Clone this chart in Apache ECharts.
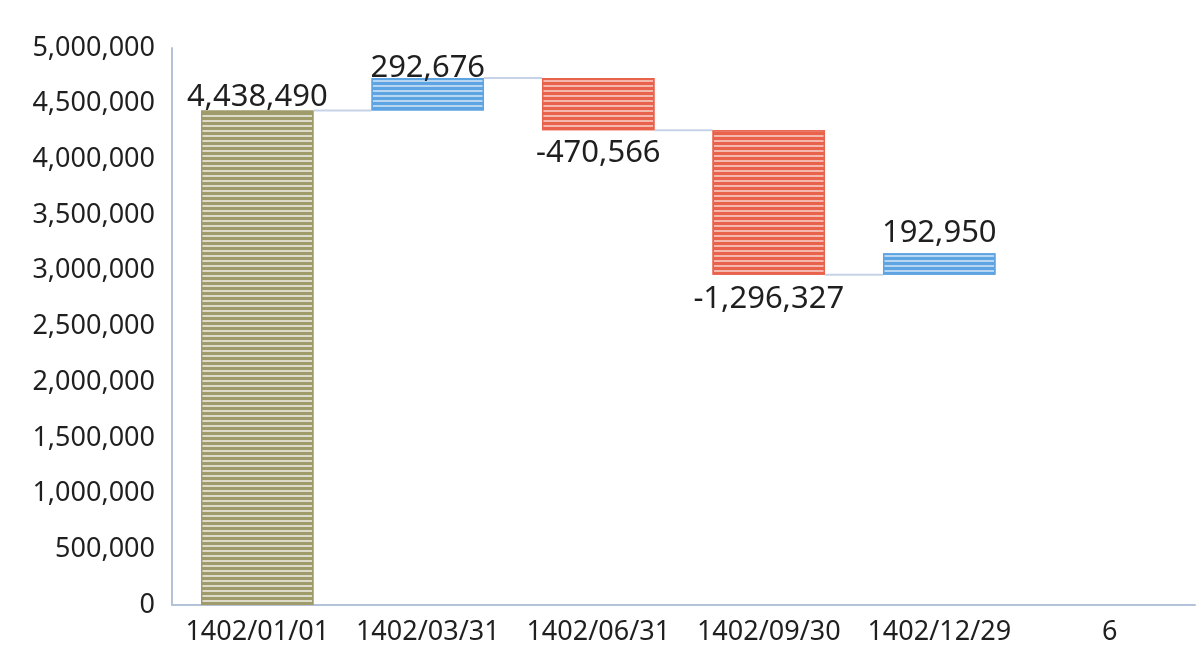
<!DOCTYPE html>
<html>
<head>
<meta charset="utf-8">
<script src="https://cdn.jsdelivr.net/npm/echarts@6/dist/echarts.min.js"></script>
<style>
html,body{margin:0;padding:0;background:#fff;}
#c{width:1204px;height:668px;}
</style>
</head>
<body>
<div id="c"></div>
<script>
var categories = ['1402/01/01', '1402/03/31', '1402/06/31', '1402/09/30', '1402/12/29', '6'];
var changes = [4438490, 292676, -470566, -1296327, 192950, null];
var yTicks = { min: 0, max: 5000000, interval: 500000 };

var COLORS = { start: '#9f9b6a', up: '#5fa4e2', down: '#e9624c' };

// waterfall geometry from the changes
var base = [], height = [], level = [];
var run = 0;
changes.forEach(function (d, i) {
  if (d === null) { base.push(null); height.push(null); level.push(null); return; }
  if (i === 0) { base.push(0); height.push(d); run = d; }
  else if (d >= 0) { base.push(run); height.push(d); run += d; }
  else { base.push(run + d); height.push(-d); run += d; }
  level.push(run);
});

function fmt(v) { return Number(v).toLocaleString('en-US'); }

function decal(alpha) {
  return {
    symbol: 'rect', symbolSize: 1,
    dashArrayX: [1, 0], dashArrayY: [2, 2.5],
    color: 'rgba(255,255,255,' + alpha + ')', rotation: 0
  };
}

var valueData = height.map(function (h, i) {
  if (h === null) return null;
  var d = changes[i];
  var col = i === 0 ? COLORS.start : (d >= 0 ? COLORS.up : COLORS.down);
  var neg = d < 0;
  var dist = i === 0 ? -2 : (neg ? (i === 3 ? 9 : 7) : (i === 1 ? -6 : 5));
  return {
    value: h,
    itemStyle: { color: col, borderColor: col, borderWidth: 1.5, decal: decal(i === 0 ? 0.65 : 0.55) },
    label: { position: neg ? 'bottom' : 'top', distance: dist }
  };
});

var connectorData = [];
for (var i = 0; i < level.length - 1; i++) {
  if (level[i] !== null && level[i + 1] !== null) connectorData.push([i, level[i]]);
}

var BAR_RATIO = 0.66;
var chart = echarts.init(document.getElementById('c'));
chart.setOption({
  backgroundColor: '#ffffff',
  animation: false,
  grid: { left: 172, right: 9, top: 48, bottom: 63 },
  xAxis: {
    type: 'category',
    data: categories,
    axisLine: { show: true, lineStyle: { color: '#b4c2d8', width: 2 } },
    axisTick: { show: false },
    axisLabel: { color: '#1f1f1f', fontSize: 27, fontFamily: 'Noto Sans', margin: 14, interval: 0, hideOverlap: false }
  },
  yAxis: {
    type: 'value',
    min: yTicks.min, max: yTicks.max, interval: yTicks.interval,
    axisLine: { show: true, lineStyle: { color: '#b4c2d8', width: 2 } },
    axisTick: { show: false },
    splitLine: { show: false },
    axisLabel: {
      color: '#1f1f1f', fontSize: 27, fontFamily: 'Noto Sans', margin: 17,
      formatter: function (v) { return fmt(v); }
    }
  },
  series: [
    {
      type: 'bar', stack: 'w', data: base, barCategoryGap: '34%',
      itemStyle: { color: 'transparent' }, silent: true
    },
    {
      type: 'bar', stack: 'w', data: valueData, barCategoryGap: '34%',
      label: {
        show: true, color: '#1f1f1f', fontSize: 31, fontFamily: 'Noto Sans',
        formatter: function (p) { return fmt(changes[p.dataIndex]); }
      }
    },
    {
      type: 'custom',
      data: connectorData,
      renderItem: function (params, api) {
        var x = api.value(0), y = api.value(1);
        var p1 = api.coord([x, y]);
        var p2 = api.coord([x + 1, y]);
        var bw = api.size([1, 0])[0] * BAR_RATIO;
        return {
          type: 'line',
          shape: { x1: p1[0] + bw / 2, y1: p1[1], x2: p2[0] - bw / 2, y2: p2[1] },
          style: { stroke: '#c6d3e6', lineWidth: 2 }
        };
      },
      z: 1
    }
  ]
});
</script>
</body>
</html>
